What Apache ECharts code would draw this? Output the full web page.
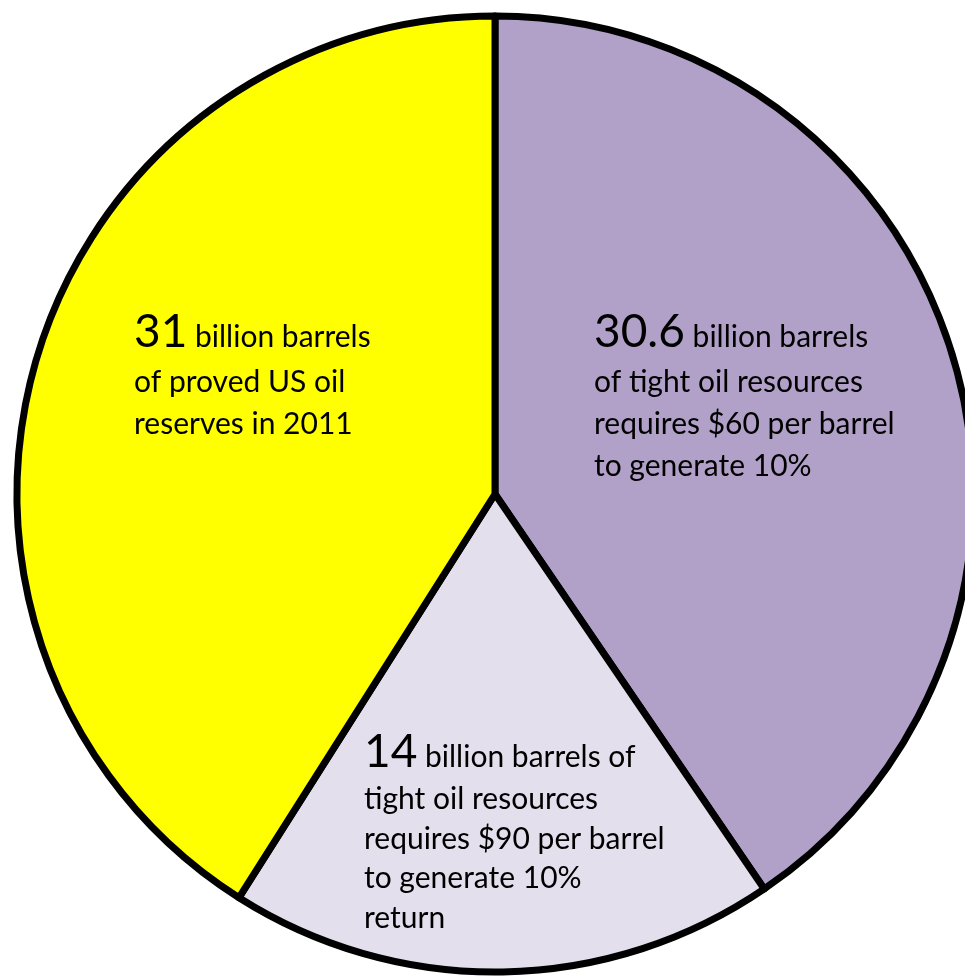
<!DOCTYPE html>
<html>
<head>
<meta charset="utf-8">
<script src="https://cdn.jsdelivr.net/npm/echarts@6/dist/echarts.min.js"></script>
<style>
    html, body { margin: 0; padding: 0; background: #fff; }
    #chart { width: 965px; height: 976px; }
</style>
</head>
<body>
<div id="chart"></div>
<script>
// 数据：按顺时针从12点方向开始
const values = [30.6, 14, 31];
const bigNumbers = ['30.6', '14', '31'];
const textLines = [
    ['billion barrels', 'of tight oil resources', 'requires $60 per barrel', 'to generate 10%'],
    ['billion barrels of', 'tight oil resources', 'requires $90 per barrel', 'to generate 10%', 'return'],
    ['billion barrels', 'of proved US oil', 'reserves in 2011']
];
const sliceColors = ['#B1A0C7', '#E4DFEC', '#FFFF00'];

// 标签左上角位置（像素）与行高
const labelPos = [
    [594, 308],
    [364, 728],
    [134, 308]
];
const lineGaps = [42, 39.5, 42];

const FONT = 'Lato';

// 生成富文本样式
function makeRich(gap) {
    return {
        big: {
            fontFamily: FONT,
            fontSize: 46,
            lineHeight: 47,
            verticalAlign: 'bottom',
            color: '#000'
        },
        txt1: {
            fontFamily: FONT,
            fontSize: 30,
            lineHeight: gap,
            verticalAlign: 'bottom',
            padding: [0, 0, 3, 0],
            color: '#000'
        },
        txt: {
            fontFamily: FONT,
            fontSize: 30,
            lineHeight: gap,
            verticalAlign: 'bottom',
            color: '#000'
        }
    };
}

let chart = echarts.init(document.getElementById('chart'), null, { renderer: 'canvas' });

let seriesData = [];
for (let i = 0; i < values.length; i++) {
    let lines = textLines[i];
    let txt = '{big|' + bigNumbers[i] + '}{txt1| ' + lines[0] + '}';
    for (let j = 1; j < lines.length; j++) {
        txt += '\n{txt|' + lines[j] + '}';
    }
    seriesData.push({
        value: values[i],
        name: bigNumbers[i],
        itemStyle: { color: sliceColors[i] },
        label: { formatter: txt, rich: makeRich(lineGaps[i]) }
    });
}

let option = {
    animation: false,
    backgroundColor: '#fff',
    series: [{
        type: 'pie',
        center: [495, 494],
        radius: 478,
        startAngle: 90,
        clockwise: true,
        avoidLabelOverlap: false,
        itemStyle: {
            borderColor: '#000',
            borderWidth: 7
        },
        label: {
            show: true,
            position: 'inside',
            color: '#000',
            fontFamily: FONT
        },
        labelLine: { show: false },
        labelLayout: function (params) {
            let p = labelPos[params.dataIndex];
            return {
                x: p[0],
                y: p[1],
                align: 'left',
                verticalAlign: 'top'
            };
        },
        emphasis: { disabled: true },
        data: seriesData
    }]
};

chart.setOption(option);
</script>
</body>
</html>
